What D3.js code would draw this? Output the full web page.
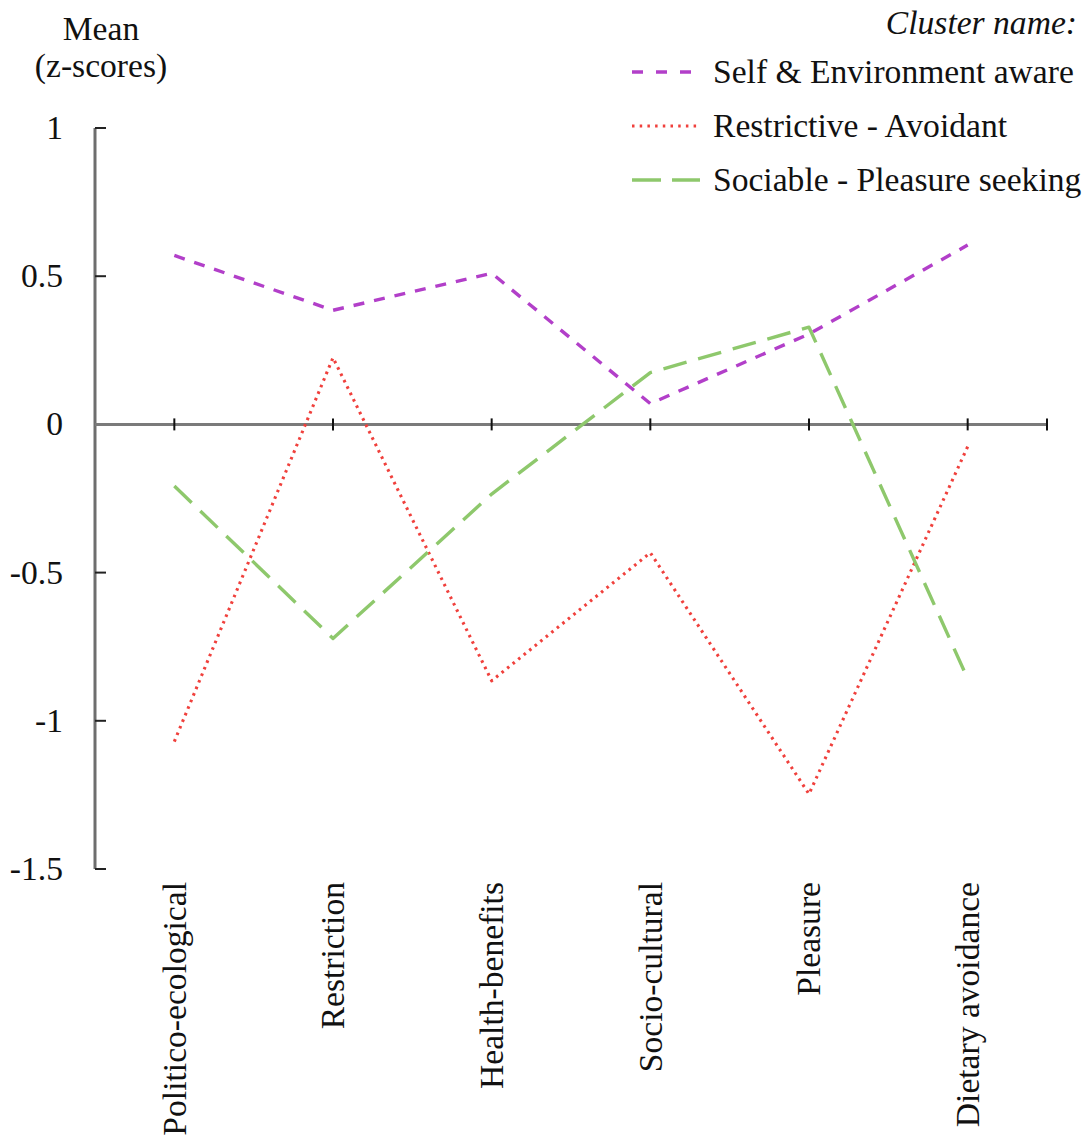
<!DOCTYPE html>
<html>
<head>
<meta charset="utf-8">
<script src="https://cdn.jsdelivr.net/npm/d3@7"></script>
<style>
  body { margin: 0; background: #fff; }
  text { font-family: "Liberation Serif", "Times New Roman", serif; fill: #111; }
</style>
</head>
<body>
<svg id="chart" width="1092" height="1140"></svg>
<script>
const categories = ["Politico-ecological", "Restriction", "Health-benefits", "Socio-cultural", "Pleasure", "Dietary avoidance"];
const seriesNames = ["Self & Environment aware", "Restrictive - Avoidant", "Sociable - Pleasure seeking"];
const selfEnvAware = [0.57, 0.385, 0.51, 0.07, 0.305, 0.605];
const restrictiveAvoidant = [-1.07, 0.225, -0.865, -0.433, -1.247, -0.075];
const sociablePleasure = [-0.208, -0.722, -0.235, 0.175, 0.328, -0.858];
const yTicks = [1, 0.5, 0, -0.5, -1, -1.5];
const yTickLabels = ["1", "0.5", "0", "-0.5", "-1", "-1.5"];

const seriesValues = [selfEnvAware, restrictiveAvoidant, sociablePleasure];
const seriesStyle = [
  { color: "#b23fc9", dash: "11,10", width: 3.4 },
  { color: "#f0403c", dash: "2.6,4.5", width: 3.1 },
  { color: "#8ec86c", dash: "24,12", width: 3.4 }
];

const FS = 33.6;
const svg = d3.select("#chart");
const mLeft = 95, mRight = 1047, mTop = 128, mBottom = 869;

const x = d3.scaleBand().domain(categories).range([mLeft, mRight]).paddingInner(0).paddingOuter(0);
const cx = c => x(c) + x.bandwidth() / 2;
const y = d3.scaleLinear().domain([-1.5, 1]).range([mBottom, mTop]);

// y axis line
svg.append("line").attr("x1", mLeft).attr("x2", mLeft).attr("y1", mTop).attr("y2", mBottom)
  .attr("stroke", "#6e6e6e").attr("stroke-width", 3);
// y ticks (pointing right)
svg.selectAll(".yt").data(yTicks).enter().append("line")
  .attr("x1", mLeft).attr("x2", mLeft + 11)
  .attr("y1", d => y(d)).attr("y2", d => y(d))
  .attr("stroke", "#222").attr("stroke-width", 2);
svg.selectAll(".yl").data(yTicks).enter().append("text")
  .attr("x", 63).attr("y", d => y(d)).attr("dy", "0.33em")
  .attr("text-anchor", "end").attr("font-size", FS)
  .text((d, i) => yTickLabels[i]);

// x axis at zero
svg.append("line").attr("x1", mLeft).attr("x2", mRight).attr("y1", y(0)).attr("y2", y(0))
  .attr("stroke", "#7a7a7a").attr("stroke-width", 3);
const xTickPos = categories.map(cx).concat([mRight]);
svg.selectAll(".xt").data(xTickPos).enter().append("line")
  .attr("x1", d => d).attr("x2", d => d)
  .attr("y1", y(0) - 6).attr("y2", y(0) + 6)
  .attr("stroke", "#111").attr("stroke-width", 2);

// category labels
svg.selectAll(".xl").data(categories).enter().append("text")
  .attr("transform", d => `translate(${cx(d)},882) rotate(-90)`)
  .attr("dy", "0.34em")
  .attr("text-anchor", "end").attr("font-size", FS)
  .text(d => d);

// y title
svg.append("text").attr("x", 101).attr("y", 40).attr("text-anchor", "middle").attr("font-size", FS).text("Mean");
svg.append("text").attr("x", 101).attr("y", 77).attr("text-anchor", "middle").attr("font-size", FS).text("(z-scores)");

// lines
const line = d3.line().x((d, i) => cx(categories[i])).y(d => y(d));
seriesValues.forEach((vals, s) => {
  svg.append("path").datum(vals)
    .attr("d", line)
    .attr("fill", "none")
    .attr("stroke", seriesStyle[s].color)
    .attr("stroke-width", seriesStyle[s].width)
    .attr("stroke-dasharray", seriesStyle[s].dash)
    .attr("stroke-linejoin", "round");
});

// legend
svg.append("text").attr("x", 1077).attr("y", 34).attr("text-anchor", "end")
  .attr("font-size", FS).attr("font-style", "italic").text("Cluster name:");
const legY = [72, 126, 180];
seriesNames.forEach((n, s) => {
  svg.append("line").attr("x1", 632).attr("x2", 700).attr("y1", legY[s]).attr("y2", legY[s])
    .attr("stroke", seriesStyle[s].color)
    .attr("stroke-width", seriesStyle[s].width)
    .attr("stroke-dasharray", s === 0 ? "11,13" : s === 2 ? "29,11" : "2.5,5.2");
  svg.append("text").attr("x", 713).attr("y", legY[s]).attr("dy", "0.34em")
    .attr("font-size", FS).text(n);
});
</script>
</body>
</html>
